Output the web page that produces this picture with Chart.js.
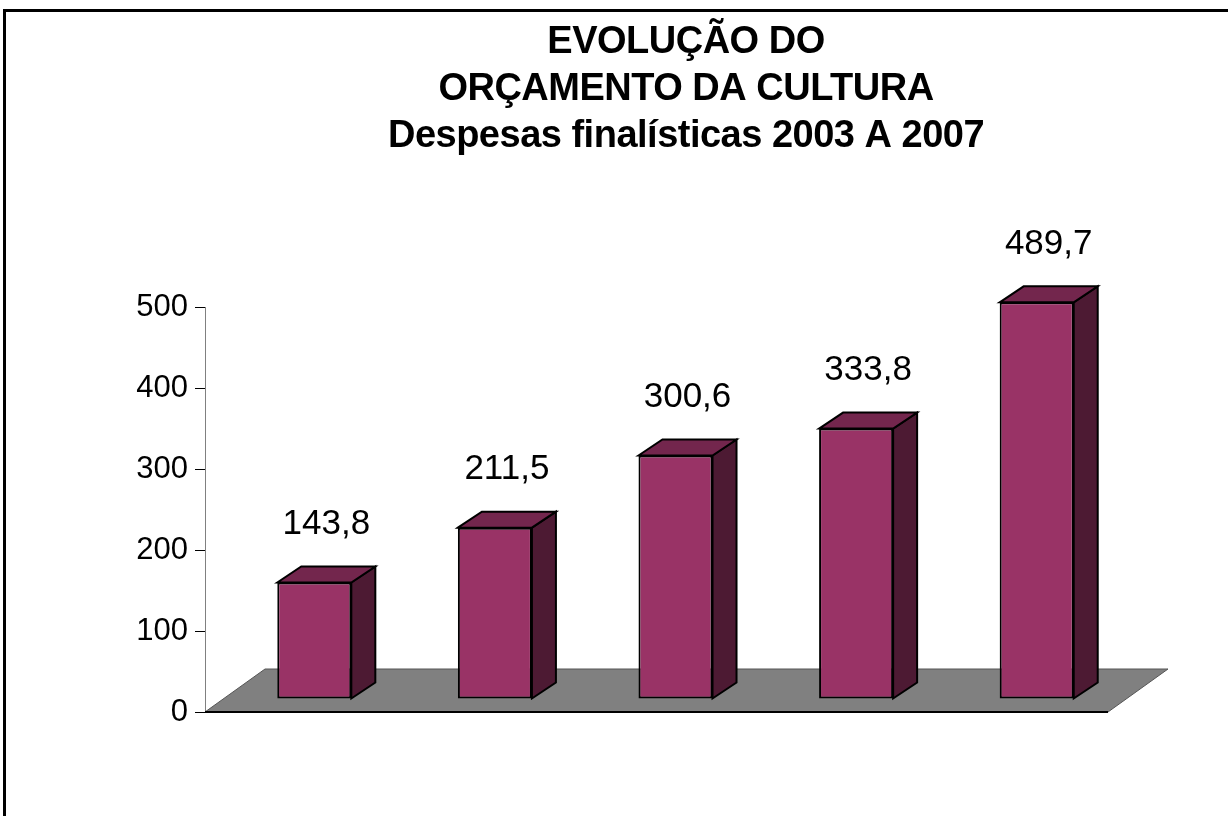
<!DOCTYPE html>
<html>
<head>
<meta charset="utf-8">
<script src="https://cdn.jsdelivr.net/npm/chart.js@4"></script>
<style>
  html, body { margin: 0; padding: 0; background: #fff; overflow: hidden; }
  #wrap { width: 1228px; height: 816px; position: relative; }
</style>
</head>
<body>
<div id="wrap"><canvas id="myChart"></canvas></div>
<script>
const ctx = document.getElementById("myChart");

// dados do gráfico
const anos = ["2003", "2004", "2005", "2006", "2007"];
const valores = [143.8, 211.5, 300.6, 333.8, 489.7];
const yTicks = [0, 100, 200, 300, 400, 500];
const titulo = ["EVOLUÇÃO DO", "ORÇAMENTO DA CULTURA", "Despesas finalísticas 2003 A 2007"];

const fonte = 'Arial, "Liberation Sans", sans-serif';

// deslocamento 3D
const shiftX = 19, shiftY = 13;   // face frontal da barra dentro do piso
const depthX = 24, depthY = 16;   // profundidade da barra
const floorX = 60, floorY = 43;   // profundidade do piso

// piso cinza + deslocar as barras
const plugin3d = {
  id: "plugin3d",
  beforeDatasetsDraw(chart) {
    const c = chart.ctx;
    const a = chart.chartArea;
    c.save();
    c.beginPath();
    c.moveTo(a.left, a.bottom);
    c.lineTo(a.left + floorX, a.bottom - floorY);
    c.lineTo(a.right + floorX, a.bottom - floorY);
    c.lineTo(a.right, a.bottom);
    c.closePath();
    c.fillStyle = "#808080";
    c.fill();
    c.lineWidth = 1;
    c.strokeStyle = "#555";
    c.stroke();
    c.beginPath();
    c.moveTo(a.left, a.bottom);
    c.lineTo(a.right, a.bottom);
    c.lineWidth = 2;
    c.strokeStyle = "#000";
    c.stroke();
    c.restore();
  },
  beforeDatasetDraw(chart) {
    chart.ctx.save();
    chart.ctx.translate(shiftX, -shiftY);
  },
  afterDatasetDraw(chart) {
    chart.ctx.restore();
  },
  afterDatasetsDraw(chart) {
    const c = chart.ctx;
    const meta = chart.getDatasetMeta(0);
    c.save();
    c.lineWidth = 2;
    c.strokeStyle = "#000";
    c.lineJoin = "miter";
    meta.data.forEach((bar, i) => {
      const w = bar.width;
      const left = bar.x - w / 2 + shiftX;
      const right = bar.x + w / 2 + shiftX;
      const top = bar.y - shiftY;
      const bottom = bar.base - shiftY;
      // lateral
      c.beginPath();
      c.moveTo(right, top);
      c.lineTo(right + depthX, top - depthY);
      c.lineTo(right + depthX, bottom - depthY);
      c.lineTo(right, bottom);
      c.closePath();
      c.fillStyle = "#4d1a33";
      c.fill();
      c.stroke();
      // topo
      c.beginPath();
      c.moveTo(left, top);
      c.lineTo(left + depthX, top - depthY);
      c.lineTo(right + depthX, top - depthY);
      c.lineTo(right, top);
      c.closePath();
      c.fillStyle = "#73264d";
      c.fill();
      c.stroke();
      // rótulo do valor
      c.fillStyle = "#000";
      c.font = "35px " + fonte;
      c.textAlign = "center";
      c.textBaseline = "middle";
      c.fillText(valores[i].toFixed(1).replace(".", ","), bar.x + shiftX + 12, top - 58);
    });
    c.restore();
  },
  afterDraw(chart) {
    const c = chart.ctx;
    c.save();
    // título
    c.fillStyle = "#000";
    c.font = "bold 38px " + fonte;
    c.textAlign = "center";
    c.textBaseline = "middle";
    if ("letterSpacing" in c) c.letterSpacing = "-0.5px";
    titulo.forEach((t, i) => c.fillText(t, 686, 43 + i * 47));
    // moldura (só em cima e à esquerda)
    c.beginPath();
    c.moveTo(4.5, 816);
    c.lineTo(4.5, 10.5);
    c.lineTo(1228, 10.5);
    c.lineWidth = 3;
    c.strokeStyle = "#000";
    c.stroke();
    c.restore();
  }
};

new Chart(ctx, {
  type: "bar",
  data: {
    labels: anos,
    datasets: [
      {
        label: "Despesas finalísticas",
        data: valores,
        backgroundColor: "#993366",
        borderColor: "#000",
        borderWidth: 2,
        borderSkipped: false,
        barPercentage: 0.41,
        categoryPercentage: 1,
        clip: false,
      },
    ],
  },
  options: {
    responsive: true,
    maintainAspectRatio: false,
    animation: false,
    events: [],
    layout: { padding: { left: 135, top: 307, right: 120, bottom: 104 } },
    plugins: {
      legend: { display: false },
      title: { display: false },
      tooltip: { enabled: false },
    },
    scales: {
      x: { display: false },
      y: {
        min: 0,
        max: 500,
        afterFit(scale) { scale.width = 70; },
        afterBuildTicks(scale) { scale.ticks = yTicks.map(v => ({ value: v })); },
        border: { display: true, color: "#808080", width: 1 },
        grid: { drawOnChartArea: false, drawTicks: true, tickLength: 10, color: "#000" },
        ticks: {
          padding: 7,
          color: "#000",
          font: { family: fonte, size: 31 },
        },
      },
    },
  },
  plugins: [plugin3d],
});
</script>
</body>
</html>
